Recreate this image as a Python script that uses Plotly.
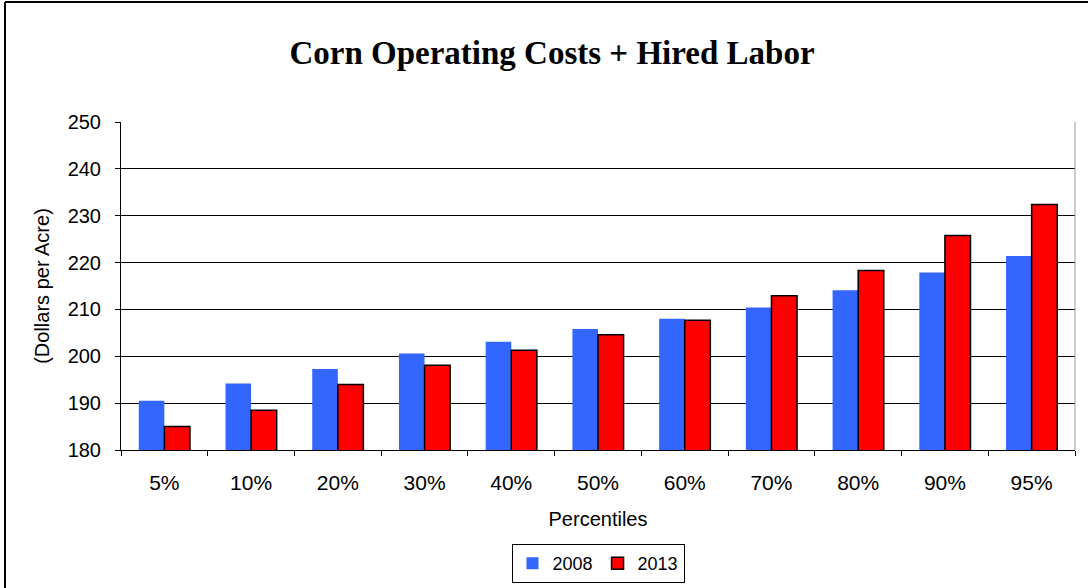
import plotly.graph_objects as go

categories = ["5%", "10%", "20%", "30%", "40%", "50%", "60%", "70%", "80%", "90%", "95%"]
values_2008 = [190.5, 194.2, 197.3, 200.6, 203.1, 205.8, 208.0, 210.4, 214.1, 217.9, 221.4]
values_2013 = [185.0, 188.5, 194.0, 198.1, 201.3, 204.6, 207.7, 212.9, 218.3, 225.8, 232.4]
y_ticks = [180, 190, 200, 210, 220, 230, 240, 250]

W, H = 1088, 588
ML, MR, MT, MB = 121, 13, 122, 138
PW, PH = W - ML - MR, H - MT - MB

def px_x(p):
    return (p - ML) / PW

def px_y(p):
    return (H - MB - p) / PH

fig = go.Figure()
fig.add_trace(go.Bar(x=categories, y=values_2008, name="2008",
                     marker=dict(color="#3366FF", line=dict(width=0))))
fig.add_trace(go.Bar(x=categories, y=values_2013, name="2013",
                     marker=dict(color="#FF0000", line=dict(color="black", width=1.5))))

fig.update_layout(
    width=W, height=H,
    margin=dict(l=ML, r=MR, t=MT, b=MB, autoexpand=False),
    paper_bgcolor="white", plot_bgcolor="white",
    barmode="group", bargap=0.41, bargroupgap=0,
    font=dict(family="Liberation Sans, Arial", size=20, color="black"),
    title=dict(text="<b>Corn Operating Costs + Hired Labor</b>",
               font=dict(family="Liberation Serif, Times New Roman", size=33, color="black"),
               x=552 / W, xanchor="center", xref="container", y=1 - 52 / H, yanchor="middle", yref="container"),
    legend=dict(orientation="h", x=0.5, xanchor="center", y=px_y(544), yanchor="top",
                bordercolor="black", borderwidth=1, font=dict(size=18),
                tracegroupgap=0, itemwidth=30),
    showlegend=True,
)
fig.update_xaxes(type="category", showline=True, linecolor="black", linewidth=1,
                 ticks="outside", tickson="boundaries", ticklen=5, tickcolor="black",
                 ticklabelstandoff=14, tickfont=dict(size=21), automargin=False,
                 title=dict(text="Percentiles", font=dict(size=20), standoff=18),
                 showgrid=False)
fig.update_yaxes(range=[180, 250], tickvals=y_ticks, showline=True, linecolor="black", linewidth=1,
                 ticks="outside", ticklen=5, tickcolor="black", ticklabelstandoff=10,
                 tickfont=dict(size=20), automargin=False,
                 showgrid=True, gridcolor="black", gridwidth=1,
                 title=dict(text="(Dollars per Acre)", font=dict(size=20), standoff=12),
                 zeroline=False)

# right edge of plot area (gray)
fig.add_shape(type="line", xref="x domain", yref="y domain", x0=1, x1=1, y0=0, y1=1,
              line=dict(color="#999999", width=1))
# outer frame (top and left edges)
fig.add_shape(type="line", xref="paper", yref="paper", x0=px_x(5), x1=px_x(W + 5), y0=px_y(2), y1=px_y(2),
              line=dict(color="black", width=2))
fig.add_shape(type="line", xref="paper", yref="paper", x0=px_x(5), x1=px_x(5), y0=px_y(2), y1=px_y(H + 5),
              line=dict(color="black", width=2))

fig.write_html("out.html", config={"displayModeBar": False},
               post_script="document.body.style.margin='0';document.body.style.overflow='hidden';")
